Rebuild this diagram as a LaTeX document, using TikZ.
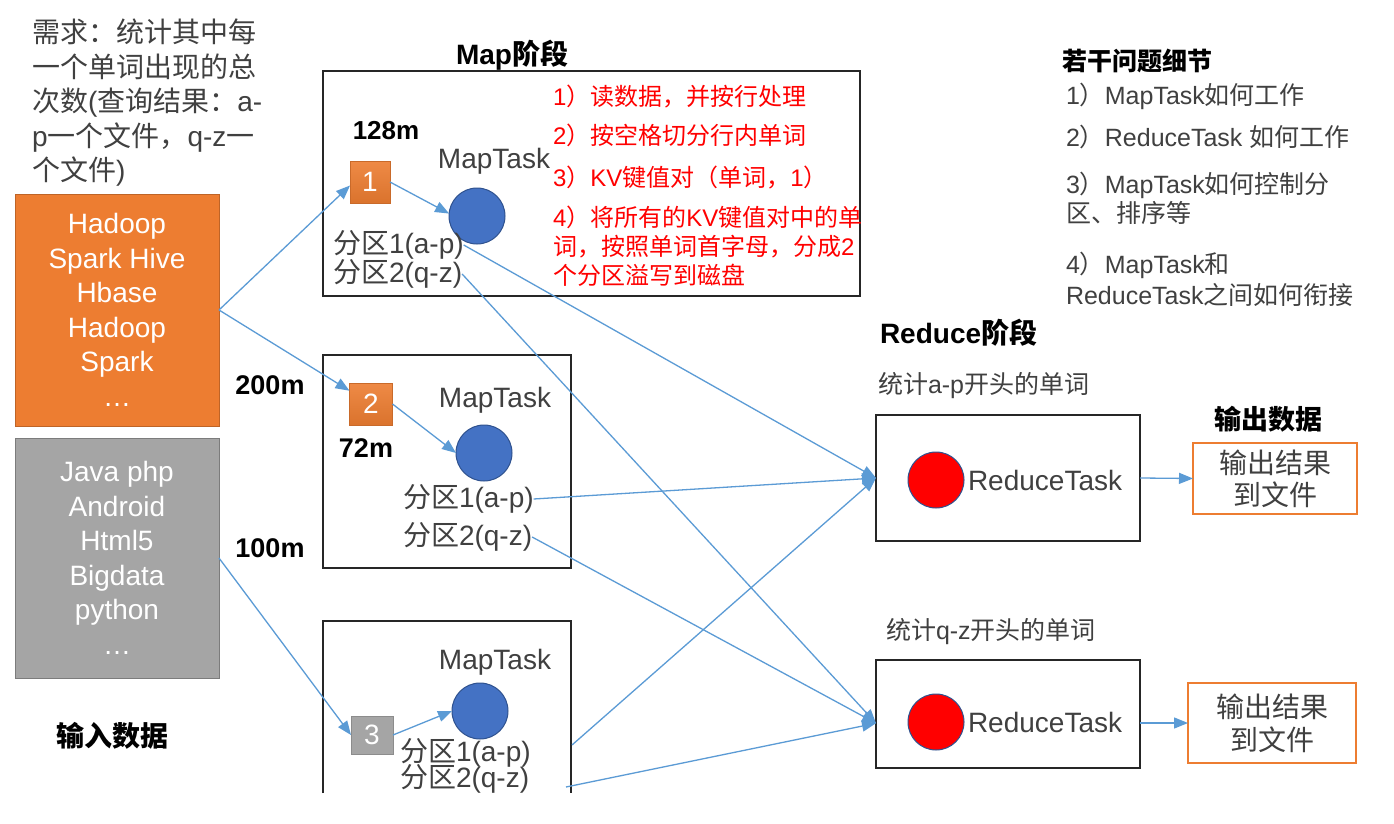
\documentclass[tikz,border=0pt]{standalone}
\usepackage{fontspec}
\setmainfont{Liberation Sans}
\newfontfamily\cjk{Noto Sans CJK SC}
\usetikzlibrary{arrows.meta,calc}
\definecolor{arrblue}{HTML}{5B9BD5}
\definecolor{ofill}{HTML}{ED7D31}
\definecolor{gfill}{HTML}{A5A5A5}
\definecolor{cblue}{HTML}{4472C4}
\definecolor{cedge}{HTML}{2F528F}
\definecolor{txt}{HTML}{404040}
\definecolor{redtxt}{HTML}{FF0000}
\newcommand\fs[2]{\fontsize{#1}{#2}\selectfont}
\begin{document}
\begin{tikzpicture}[x=1pt,y=-1pt,
  every node/.style={inner sep=0pt, outer sep=0pt},
  box/.style={draw=black!85, line width=2.2pt},
  arr/.style={draw=arrblue, line width=1.3pt, -{Triangle[length=14pt,width=11pt]}},
  body/.style={text=txt, font=\fs{28}{34.5}},
  note/.style={text=txt, font=\fs{25}{29}, anchor=west, align=left},
  red/.style={text=redtxt, font=\fs{24}{29}, anchor=west, align=left},
  head/.style={text=black, font=\fs{28}{32}\bfseries},
  sz/.style={text=black, font=\fs{27}{30}\bfseries},
  mcirc/.style={circle, fill=cblue, draw=cedge, line width=1pt, minimum size=56},
  rcirc/.style={circle, fill=red, draw=cedge, line width=1pt, minimum size=56},
  outbox/.style={draw=ofill, line width=2pt, align=center, text=txt, font=\fs{28}{32}},
  part/.style={text=txt, font=\fs{28}{30}, anchor=west},
  osq/.style={top color=ofill!90!white, bottom color=ofill!92!black, draw=ofill!85!black, line width=0.6pt, text=white, font=\fs{28}{30}},
  gsq/.style={fill=gfill, draw=gfill!85!black, line width=0.6pt, text=white, font=\fs{28}{30}}
]
\useasboundingbox (0,0) rectangle (1394,824);
\fill[white] (0,0) rectangle (1394,824);

% requirement text
\node[body, anchor=west, align=left] (req) at (32,103)
 {{\cjk 需求：统计其中每}\\{\cjk 一个单词出现的总}\\{\cjk 次数}({\cjk 查询结果：}a-\\p{\cjk 一个文件，}q-z{\cjk 一}\\{\cjk 个文件})};

% input boxes
\node[fill=ofill, draw=ofill!80!black, line width=0.8pt, minimum width=204, minimum height=232,
      text=white, align=center, font=\fs{28}{34.5}] (inA) at (117,310)
 {Hadoop\\Spark Hive\\Hbase\\Hadoop\\Spark\\…};
\node[fill=gfill, draw=gfill!75!black, line width=0.8pt, minimum width=204, minimum height=240,
      text=white, align=center, font=\fs{28}{34.5}] (inB) at (117,558)
 {Java php\\Android\\Html5\\Bigdata\\python\\…};
\node[head] (inlab) at (112,736) {{\cjk\bfseries 输入数据}};

% Map stage
\node[head] (maplab) at (512,55) {Map{\cjk\bfseries 阶段}};
\node[box, minimum width=537, minimum height=225] (m1) at (591.5,183.5) {};
\node[box, minimum width=248, minimum height=213] (m2) at (447,461.5) {};
\draw[box] (323,793) -- (323,621) -- (571,621) -- (571,793);

% map 1
\node[sz, font=\fs{26}{30}\bfseries] (s128) at (386,131) {128m};
\node[osq, minimum width=40, minimum height=42] (sq1) at (370,182) {1};
\node[text=txt, font=\fs{28}{30}] (mt1) at (494,161) {MapTask};
\node[mcirc] (c1) at (477,216) {};
\node[part] (p11) at (333,245) {{\cjk 分区}1(a-p)};
\node[part] (p12) at (333,274) {{\cjk 分区}2(q-z)};
\node[red] (r1t) at (553,97) {1{\cjk ）读数据，并按行处理}};
\node[red] (r2t) at (553,135) {2{\cjk ）按空格切分行内单词}};
\node[red] (r3t) at (553,178) {3{\cjk ）}KV{\cjk 键值对（单词，}1{\cjk ）}};
\node[red] (r4t) at (553,246) {4{\cjk ）将所有的}KV{\cjk 键值对中的单}\\{\cjk 词，按照单词首字母，分成}2\\{\cjk 个分区溢写到磁盘}};

% map 2
\node[sz] (s200) at (270,385) {200m};
\node[osq, minimum width=43, minimum height=42] (sq2) at (371,404) {2};
\node[sz] (s72) at (366,448) {72m};
\node[text=txt, font=\fs{28}{30}] (mt2) at (495,400) {MapTask};
\node[mcirc] (c2) at (484,453) {};
\node[part] (p21) at (403,499) {{\cjk 分区}1(a-p)};
\node[part] (p22) at (403,537) {{\cjk 分区}2(q-z)};

% map 3
\node[sz] (s100) at (270,548) {100m};
\node[gsq, minimum width=42, minimum height=38] (sq3) at (372,735) {3};
\node[text=txt, font=\fs{28}{30}] (mt3) at (495,662) {MapTask};
\node[mcirc] (c3) at (480,711) {};
\node[part] (p31) at (400,753) {{\cjk 分区}1(a-p)};
\node[part] (p32) at (400,779) {{\cjk 分区}2(q-z)};
\coordinate (o31) at (572,745);
\coordinate (o32) at (566,787);

% notes
\node[anchor=west, text=black, font=\fs{25}{29}\bfseries] (qh) at (1062,61) {{\cjk\bfseries 若干问题细节}};
\node[note] (q1) at (1066,96) {1{\cjk ）}MapTask{\cjk 如何工作}};
\node[note] (q2) at (1066,137) {2{\cjk ）}ReduceTask {\cjk 如何工作}};
\node[note] (q3) at (1066,198) {3{\cjk ）}MapTask{\cjk 如何控制分}\\{\cjk 区、排序等}};
\node[note, font=\fs{25}{31}] (q4) at (1066,279) {4{\cjk ）}MapTask{\cjk 和}\\ReduceTask{\cjk 之间如何衔接}};

% reduce stage
\node[head, anchor=west] (redlab) at (880,333) {Reduce{\cjk\bfseries 阶段}};
\node[note] (st1) at (878,386) {{\cjk 统计}a-p{\cjk 开头的单词}};
\node[box, minimum width=264, minimum height=126] (r1) at (1008,478) {};
\node[rcirc] (rc1) at (936,480) {};
\node[text=txt, font=\fs{28}{30}, anchor=west] (rt1) at (968,480) {ReduceTask};
\node[note] (st2) at (886,632) {{\cjk 统计}q-z{\cjk 开头的单词}};
\node[box, minimum width=264, minimum height=108] (r2) at (1008,714) {};
\node[rcirc] (rc2) at (936,722) {};
\node[text=txt, font=\fs{28}{30}, anchor=west] (rt2) at (968,722) {ReduceTask};

% output
\node[head, font=\fs{27}{30}\bfseries] (outlab) at (1268,419) {{\cjk\bfseries 输出数据}};
\node[outbox, minimum width=164, minimum height=71] (o1) at (1275,478.5) {{\cjk 输出结果}\\{\cjk 到文件}};
\node[outbox, minimum width=168, minimum height=80, font=\fs{28}{33}] (o2) at (1272,723) {{\cjk 输出结果}\\{\cjk 到文件}};

% connectors
\draw[arr] (inA.east) -- (sq1.190);
\draw[arr] (inA.east) -- (sq2);
\draw[arr] (inB.east) -- (sq3.west);
\draw[arr] (sq1.east) -- (c1.175);
\draw[arr] (sq2.east) -- (c2.west);
\draw[arr] (sq3.east) -- (c3.west);
\draw[arr] (p11.east) -- (r1.west);
\draw[arr] (p12.east) -- (r2.184);
\draw[arr] (p21.east) -- (r1.west);
\draw[arr] (p22.east) -- (r2.184);
\draw[arr] (o31) -- (r1.west);
\draw[arr] (o32) -- (r2.184);
\draw[arr] (r1.east) -- (o1.west);
\draw[arr] (r2.east |- o2.west) -- (o2.west);
\end{tikzpicture}
\end{document}
